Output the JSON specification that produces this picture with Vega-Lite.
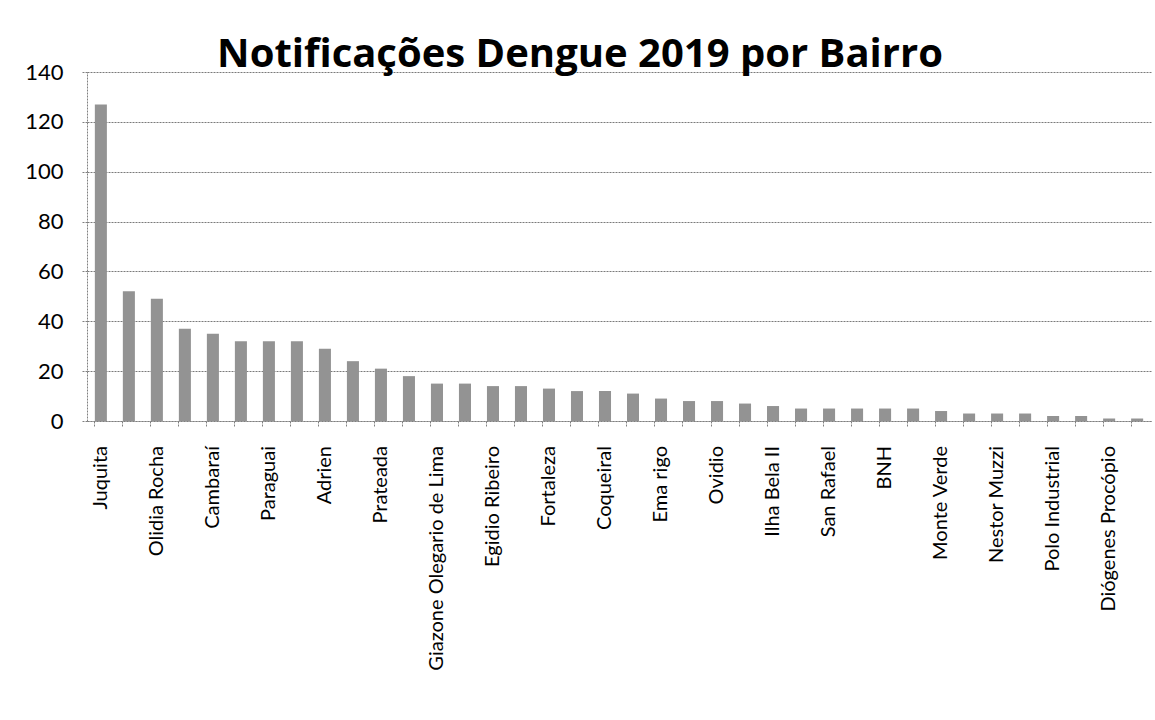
{
  "$schema": "https://vega.github.io/schema/vega-lite/v6.json",
  "autosize": {"type": "none"},
  "padding": {"left": 87, "top": 72, "right": 4, "bottom": 299},
  "width": 1064,
  "height": 349,
  "background": "white",
  "title": {
    "text": "Notificações Dengue 2019 por Bairro",
    "font": "Open Sans",
    "fontSize": 40,
    "fontWeight": "bold",
    "color": "black",
    "anchor": "middle",
    "frame": "group",
    "dx": -39,
    "baseline": "alphabetic",
    "offset": -46
  },
  "data": {
    "values": [
      {"ordem": 1, "bairro": "Juquita", "casos": 127},
      {"ordem": 2, "bairro": "", "casos": 52},
      {"ordem": 3, "bairro": "Olidia Rocha", "casos": 49},
      {"ordem": 4, "bairro": "", "casos": 37},
      {"ordem": 5, "bairro": "Cambaraí", "casos": 35},
      {"ordem": 6, "bairro": "", "casos": 32},
      {"ordem": 7, "bairro": "Paraguai", "casos": 32},
      {"ordem": 8, "bairro": "", "casos": 32},
      {"ordem": 9, "bairro": "Adrien", "casos": 29},
      {"ordem": 10, "bairro": "", "casos": 24},
      {"ordem": 11, "bairro": "Prateada", "casos": 21},
      {"ordem": 12, "bairro": "", "casos": 18},
      {"ordem": 13, "bairro": "Giazone Olegario de Lima", "casos": 15},
      {"ordem": 14, "bairro": "", "casos": 15},
      {"ordem": 15, "bairro": "Egidio Ribeiro", "casos": 14},
      {"ordem": 16, "bairro": "", "casos": 14},
      {"ordem": 17, "bairro": "Fortaleza", "casos": 13},
      {"ordem": 18, "bairro": "", "casos": 12},
      {"ordem": 19, "bairro": "Coqueiral", "casos": 12},
      {"ordem": 20, "bairro": "", "casos": 11},
      {"ordem": 21, "bairro": "Ema rigo", "casos": 9},
      {"ordem": 22, "bairro": "", "casos": 8},
      {"ordem": 23, "bairro": "Ovidio", "casos": 8},
      {"ordem": 24, "bairro": "", "casos": 7},
      {"ordem": 25, "bairro": "Ilha Bela II", "casos": 6},
      {"ordem": 26, "bairro": "", "casos": 5},
      {"ordem": 27, "bairro": "San Rafael", "casos": 5},
      {"ordem": 28, "bairro": "", "casos": 5},
      {"ordem": 29, "bairro": "BNH", "casos": 5},
      {"ordem": 30, "bairro": "", "casos": 5},
      {"ordem": 31, "bairro": "Monte Verde", "casos": 4},
      {"ordem": 32, "bairro": "", "casos": 3},
      {"ordem": 33, "bairro": "Nestor Muzzi", "casos": 3},
      {"ordem": 34, "bairro": "", "casos": 3},
      {"ordem": 35, "bairro": "Polo Industrial", "casos": 2},
      {"ordem": 36, "bairro": "", "casos": 2},
      {"ordem": 37, "bairro": "Diógenes Procópio", "casos": 1},
      {"ordem": 38, "bairro": "", "casos": 1}
    ]
  },
  "encoding": {
    "x": {
      "field": "ordem",
      "type": "ordinal",
      "sort": null,
      "scale": {"paddingInner": 0.57, "paddingOuter": 0.28},
      "axis": {
        "title": null,
        "labels": false,
        "ticks": true,
        "bandPosition": 0,
        "tickSize": 6,
        "tickColor": "#808080",
        "tickDash": [2, 1],
        "domainColor": "#808080",
        "domainDash": [2, 1],
        "grid": false
      }
    }
  },
  "layer": [
    {
      "mark": {"type": "bar", "color": "#939393"},
      "encoding": {
        "y": {
          "field": "casos",
          "type": "quantitative",
          "scale": {"domain": [0, 140], "nice": false},
          "axis": {
            "title": null,
            "values": [0, 20, 40, 60, 80, 100, 120, 140],
            "labelFont": "Lato",
            "labelFontSize": 22,
            "labelColor": "black",
            "labelPadding": 18,
            "tickSize": 6,
            "tickColor": "#808080",
            "tickDash": [2, 1],
            "domainColor": "#808080",
            "domainDash": [2, 1],
            "grid": true,
            "gridColor": "#7a7a7a",
            "gridDash": [2, 1],
            "gridWidth": 1
          }
        }
      }
    },
    {
      "mark": {
        "type": "text",
        "angle": 270,
        "align": "right",
        "baseline": "middle",
        "dx": -25,
        "font": "Lato",
        "fontSize": 20,
        "color": "black"
      },
      "encoding": {
        "y": {"datum": 0, "type": "quantitative"},
        "text": {"field": "bairro"}
      }
    }
  ],
  "config": {
    "view": {"stroke": null}
  }
}
